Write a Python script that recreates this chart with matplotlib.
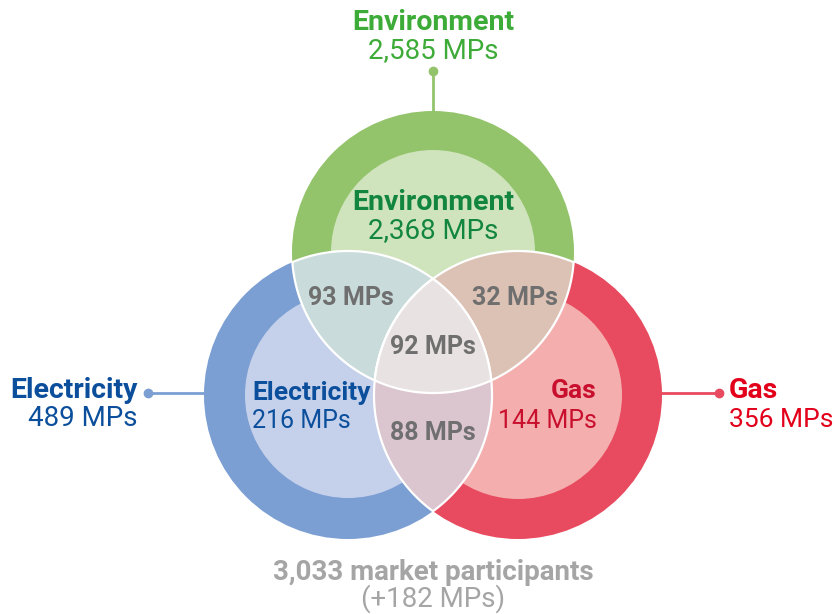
import numpy as np
import matplotlib.pyplot as plt
from matplotlib.patches import Circle, Polygon

plt.rcParams['font.family'] = ['Roboto', 'DejaVu Sans']

# Data
groups = ['Environment', 'Electricity', 'Gas']
total_mps = ['2,585', '489', '356']
only_mps = ['2,368', '216', '144']
pair_names = [('Environment', 'Electricity'), ('Environment', 'Gas'), ('Electricity', 'Gas')]
pair_mps = ['93', '32', '88']
all_three_mps = '92'
total_participants = '3,033'
extra_mps = '+182'

# Layout (pixel coordinates)
centers = [(433, 252), (348, 395), (518, 395)]
r_outer = [141, 144, 144]
r_inner = [102, 103, 104]

ring_col = ['#93c46b', '#7b9fd3', '#e84b5f']
fill_col = ['#cfe4bd', '#c5d1eb', '#f4aeae']
pair_col = ['#c9dcdb', '#dcc2b5', '#dbc5cf']
center_col = '#e8e2e2'
label_col = ['#3dab37', '#0b4f9c', '#e2001a']
inner_col = ['#12853f', '#0b4f9c', '#c8102e']
gray = '#6f6f6f'

fig = plt.figure(figsize=(8.37, 6.14), dpi=100)
ax = fig.add_axes([0, 0, 1, 1])
ax.set_xlim(0, 837)
ax.set_ylim(614, 0)
ax.set_aspect('equal')
ax.axis('off')


def region(ids):
    # points of each circle boundary that lie inside all the other circles
    pts = []
    t = np.linspace(0, 2 * np.pi, 3000)
    for i in ids:
        cx, cy = centers[i]
        p = np.c_[cx + r_outer[i] * np.cos(t), cy + r_outer[i] * np.sin(t)]
        mask = np.ones(len(p), bool)
        for j in ids:
            if j != i:
                d = np.hypot(p[:, 0] - centers[j][0], p[:, 1] - centers[j][1])
                mask &= d <= r_outer[j] + 0.01
        pts.append(p[mask])
    P = np.vstack(pts)
    c = P.mean(axis=0)
    order = np.argsort(np.arctan2(P[:, 1] - c[1], P[:, 0] - c[0]))
    return P[order]


for i in range(3):
    ax.add_patch(Circle(centers[i], r_outer[i], color=ring_col[i], lw=0, zorder=1))
    ax.add_patch(Circle(centers[i], r_inner[i], color=fill_col[i], lw=0, zorder=2))

pairs = [(0, 1), (0, 2), (1, 2)]
for k, pr in enumerate(pairs):
    ax.add_patch(Polygon(region(pr), closed=True, facecolor=pair_col[k],
                         edgecolor='white', lw=1.6, zorder=3))
ax.add_patch(Polygon(region((0, 1, 2)), closed=True, facecolor=center_col,
                     edgecolor='white', lw=1.6, zorder=4))

# leader lines
ax.plot([433, 433], [71, 112], color=ring_col[0], lw=2, zorder=0)
ax.plot([433], [71], 'o', color=ring_col[0], ms=6, zorder=0)
ax.plot([148, 206], [393, 393], color=ring_col[1], lw=2, zorder=0)
ax.plot([148], [393], 'o', color=ring_col[1], ms=6, zorder=0)
ax.plot([660, 719], [393, 393], color=ring_col[2], lw=2, zorder=0)
ax.plot([719], [393], 'o', color=ring_col[2], ms=6, zorder=0)

fb = 20.5   # bold group names
fr = 20     # regular counts
fi = 19     # inner electricity / gas names
fc = 18     # inner electricity / gas counts
fo = 18     # overlap counts

# outer labels
ax.text(433, 23, groups[0], color=label_col[0], fontsize=fb, fontweight='bold', ha='center', va='center')
ax.text(433, 51, f'{total_mps[0]} MPs', color=label_col[0], fontsize=fr, ha='center', va='center')
ax.text(138, 390, groups[1], color=label_col[1], fontsize=fb, fontweight='bold', ha='right', va='center')
ax.text(138, 418, f'{total_mps[1]} MPs', color=label_col[1], fontsize=fr, ha='right', va='center')
ax.text(729, 391, groups[2], color=label_col[2], fontsize=fb, fontweight='bold', ha='left', va='center')
ax.text(729, 420, f'{total_mps[2]} MPs', color=label_col[2], fontsize=19, ha='left', va='center')

# inner labels
ax.text(433, 203, groups[0], color=inner_col[0], fontsize=fb, fontweight='bold', ha='center', va='center', zorder=5)
ax.text(433, 231, f'{only_mps[0]} MPs', color=inner_col[0], fontsize=fr, ha='center', va='center', zorder=5)
ax.text(252, 393, groups[1], color=inner_col[1], fontsize=fi, fontweight='bold', ha='left', va='center', zorder=5)
ax.text(252, 421, f'{only_mps[1]} MPs', color=inner_col[1], fontsize=fc, ha='left', va='center', zorder=5)
ax.text(597, 391, groups[2], color=inner_col[2], fontsize=fi, fontweight='bold', ha='right', va='center', zorder=5)
ax.text(597, 421, f'{only_mps[2]} MPs', color=inner_col[2], fontsize=fc, ha='right', va='center', zorder=5)

# overlaps
pair_pos = [(351, 298), (515, 298), (433, 433)]
for k in range(3):
    ax.text(*pair_pos[k], f'{pair_mps[k]} MPs', color=gray, fontsize=fo, fontweight='bold',
            ha='center', va='center', zorder=5)
ax.text(433, 347, f'{all_three_mps} MPs', color=gray, fontsize=fo, fontweight='bold',
        ha='center', va='center', zorder=5)

# total
ax.text(433, 572, f'{total_participants} market participants', color='#a5a5a5', fontsize=fr,
        fontweight='bold', ha='center', va='center')
ax.text(433, 599, f'({extra_mps} MPs)', color='#a5a5a5', fontsize=fr, ha='center', va='center')

fig.savefig('out.png', dpi=100)
